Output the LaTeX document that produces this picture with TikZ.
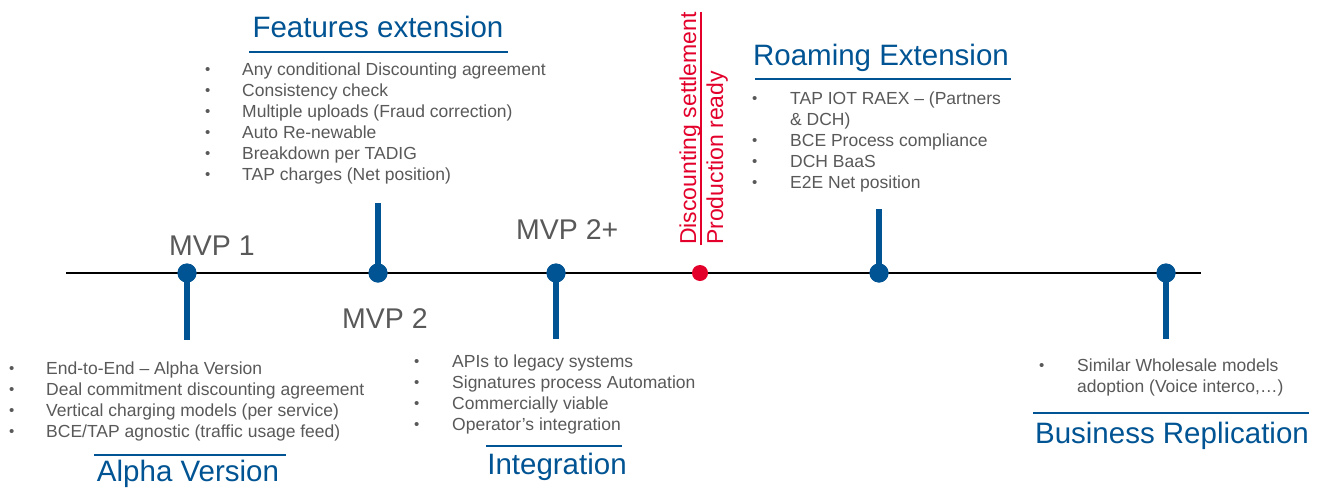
\documentclass[tikz,border=0pt]{standalone}
\usepackage{fontspec}
\setmainfont{Liberation Sans}
\definecolor{tblue}{RGB}{0,84,147}
\definecolor{tgray}{RGB}{89,89,89}
\definecolor{tred}{RGB}{227,0,43}
\newcommand{\bitems}[2]{\begin{tabular}[t]{@{}p{#1}@{}l@{}}#2\end{tabular}}
\newcommand{\bdot}{{\fontsize{15}{15}\selectfont\raisebox{1pt}{•}}}
\begin{document}
\begin{tikzpicture}[x=1pt,y=-1pt,
  tlist/.style={anchor=base west, inner sep=0, text=tgray, font=\fontsize{17.5}{21}\selectfont},
  ttitle/.style={anchor=base, inner sep=0, text=tblue, font=\fontsize{29.5}{34}\selectfont},
  mvp/.style={anchor=base west, inner sep=0, text=tgray, font=\fontsize{28.5}{34}\selectfont},
  dot/.style={circle, fill=tblue, minimum size=19pt, inner sep=0},
  stem/.style={draw=tblue, line width=5.5pt},
  uline/.style={draw=tblue, line width=2pt},
  redtxt/.style={rotate=90, anchor=base west, inner sep=0, text=tred, font=\fontsize{23}{28}\selectfont}]
\useasboundingbox[fill=white] (0,0) rectangle (1326,488);

% timeline
\coordinate (tl0) at (66,273);
\coordinate (tl1) at (1201,273);
\draw[line width=2.5pt, black] (tl0) -- (tl1);

% stems
\coordinate (s1) at (187,340);
\coordinate (s2) at (378,203);
\coordinate (s3) at (556,339);
\coordinate (s4) at (879,209);
\coordinate (s5) at (1166,339);
\node[dot] (d1) at (187,273) {};
\node[dot] (d2) at (378,273) {};
\node[dot] (d3) at (556,273) {};
\node[dot] (d4) at (879,273) {};
\node[dot] (d5) at (1166,273) {};
\draw[stem] (d1.center) -- (s1);
\draw[stem] (d2.center) -- (s2);
\draw[stem] (d3.center) -- (s3);
\draw[stem] (d4.center) -- (s4);
\draw[stem] (d5.center) -- (s5);
\node[dot] at (d1) {};
\node[dot] at (d2) {};
\node[dot] at (d3) {};
\node[dot] at (d4) {};
\node[dot] at (d5) {};
\node[circle, fill=tred, minimum size=16pt, inner sep=0] (dr) at (700,273) {};

% MVP labels
\node[mvp] (m1) at (169,255) {MVP 1};
\node[mvp] (m2) at (342,328) {MVP 2};
\node[mvp] (m3) at (516,239) {MVP 2+};

% red vertical text
\node[redtxt] (rd) at (696,245) {Discounting settlement};
\node[redtxt] (rp) at (723,245) {Production ready};
\draw[tred, line width=1.2pt] (rd.south west) -- (rd.south east);

% Features extension
\node[ttitle] (tf) at (378,37) {Features extension};
\draw[uline] (249,52) -- (508,52);
\node[tlist] (lf) at (205,75) {\bitems{37pt}{%
\bdot & Any conditional Discounting agreement\\
\bdot & Consistency check\\
\bdot & Multiple uploads (Fraud correction)\\
\bdot & Auto Re-newable\\
\bdot & Breakdown per TADIG\\
\bdot & TAP charges (Net position)}};

% Roaming Extension
\node[ttitle] (tr) at (881,65) {Roaming Extension};
\draw[uline] (755,79) -- (1011,79);
\node[tlist] (lr) at (752,104) {\bitems{38pt}{%
\bdot & TAP IOT RAEX -- (Partners\\
 & \& DCH)\\
\bdot & BCE Process compliance\\
\bdot & DCH BaaS\\
\bdot & E2E Net position}};

% Alpha Version
\node[tlist] (la) at (9,374) {\bitems{37pt}{%
\bdot & End-to-End -- Alpha Version\\
\bdot & Deal commitment discounting agreement\\
\bdot & Vertical charging models (per service)\\
\bdot & BCE/TAP agnostic (traffic usage feed)}};
\draw[uline] (94,455) -- (286,455);
\node[ttitle] (ta) at (188,481) {Alpha Version};

% Integration
\node[tlist] (li) at (414,367) {\bitems{38pt}{%
\bdot & APIs to legacy systems\\
\bdot & Signatures process Automation\\
\bdot & Commercially viable\\
\bdot & Operator’s integration}};
\draw[uline] (486,446) -- (622,446);
\node[ttitle] (ti) at (557,474) {Integration};

% Business Replication
\node[tlist] (lb) at (1039,371) {\bitems{38pt}{%
\bdot & Similar Wholesale models\\
 & adoption (Voice interco,…)}};
\draw[uline] (1033,413) -- (1309,413);
\node[ttitle] (tb) at (1172,443) {Business Replication};
\end{tikzpicture}
\end{document}
